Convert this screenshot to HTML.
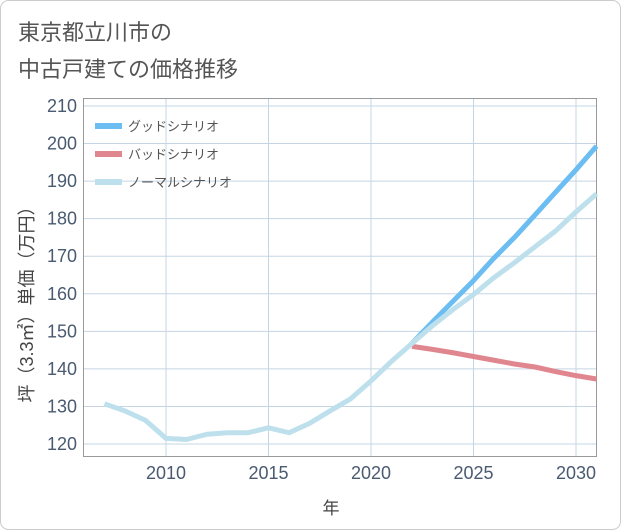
<!DOCTYPE html>
<html><head><meta charset="utf-8"><style>
body{margin:0;background:#fff;}
svg{display:block;font-family:"Liberation Sans","Noto Sans CJK JP",sans-serif;}
</style></head><body>
<svg width="621" height="530">
<rect x="0.5" y="0.5" width="620" height="529" rx="8" fill="#fff" stroke="#ccc"/>
<text x="18" y="40" font-size="22" fill="#555">東京都立川市の</text>
<text x="18" y="77" font-size="22" fill="#555">中古戸建ての価格推移</text>
<g id="grid"></g>
<rect x="83.5" y="98.5" width="513" height="358" fill="none" stroke="#999"/>
<g id="series"></g>
<g id="ticks"></g>
<text x="331" y="514" font-size="17" fill="#444" text-anchor="middle">年</text>
<text transform="translate(33,300) rotate(-90)" font-size="18" fill="#444" text-anchor="middle">坪（3.3㎡）単価（万円）</text>
<g>
<line x1="95" y1="126" x2="122" y2="126" stroke="#6cbdf2" stroke-width="6"/>
<text x="128" y="131" font-size="13" fill="#555">グッドシナリオ</text>
<line x1="95" y1="154" x2="122" y2="154" stroke="#e0868e" stroke-width="6"/>
<text x="128" y="159" font-size="13" fill="#555">バッドシナリオ</text>
<line x1="95" y1="182" x2="122" y2="182" stroke="#bde0ec" stroke-width="6"/>
<text x="128" y="187" font-size="13" fill="#555">ノーマルシナリオ</text>
</g>
</svg>
<script>
const normalYears=[2007,2008,2009,2010,2011,2012,2013,2014,2015,2016,2017,2018,2019,2020,2021,2022,2023,2024,2025,2026,2027,2028,2029,2030,2031];
const normalValues=[130.7,128.8,126.3,121.5,121.2,122.6,123.0,123.0,124.3,123.0,125.5,128.8,132.0,136.8,142.0,146.8,151.5,155.8,159.8,164.3,168.3,172.5,176.7,181.8,186.6];
const forecastYears=[2022,2023,2024,2025,2026,2027,2028,2029,2030,2031];
const goodValues=[146.8,152.5,158.0,163.5,169.5,175.0,181.0,187.0,193.0,199.3];
const badValues=[146.0,145.2,144.3,143.3,142.3,141.3,140.5,139.3,138.2,137.3];
const yTicks=[120,130,140,150,160,170,180,190,200,210];
const xTicks=[2010,2015,2020,2025,2030];
const NS="http://www.w3.org/2000/svg";
const xs=y=>166+(y-2010)*20.5;
const ys=v=>444-(v-120)*3.756;
function mk(tag,attrs,parent){const e=document.createElementNS(NS,tag);for(const k in attrs)e.setAttribute(k,attrs[k]);document.getElementById(parent).appendChild(e);return e;}
yTicks.forEach(v=>{
 const l=mk('line',{x1:84,x2:596,y1:ys(v),y2:ys(v),stroke:'#c5d5e4','stroke-width':1},'grid');
 
 
 const t=mk('text',{x:77,y:ys(v)+6,'font-size':18,fill:'#4a5a70','text-anchor':'end'},'ticks');
 t.textContent=v;
 
 
});
xTicks.forEach(v=>{
 const l=mk('line',{x1:xs(v),x2:xs(v),y1:99,y2:456,stroke:'#c5d5e4','stroke-width':1},'grid');
 
 
 const t=mk('text',{x:xs(v),y:479,'font-size':18,fill:'#4a5a70','text-anchor':'middle'},'ticks');
 t.textContent=v;
 
 
});
function pts(xa,va){return xa.map((y,i)=>xs(y)+','+ys(va[i])).join(' ');}
const bad=mk('polyline',{points:pts(forecastYears,badValues),fill:'none',stroke:'#e0868e','stroke-width':5,'stroke-linejoin':'round'},'series');


const good=mk('polyline',{points:pts(forecastYears,goodValues),fill:'none',stroke:'#6cbdf2','stroke-width':5,'stroke-linejoin':'round'},'series');


const normal=mk('polyline',{points:pts(normalYears,normalValues),fill:'none',stroke:'#bde0ec','stroke-width':5,'stroke-linejoin':'round'},'series');


</script>
</body></html>
